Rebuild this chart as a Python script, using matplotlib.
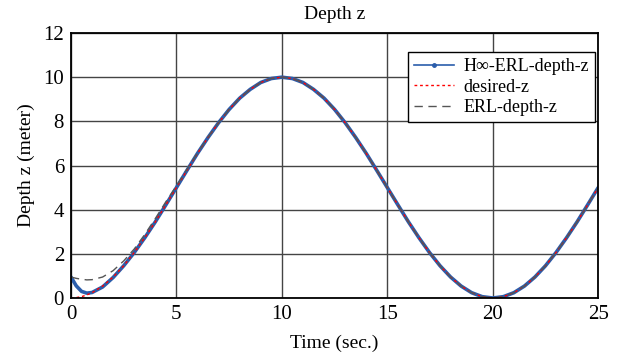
import matplotlib
matplotlib.use("Agg")
import matplotlib.pyplot as plt
from matplotlib.lines import Line2D

# values
time = [0, 0.25, 0.5, 0.75, 1, 1.5, 2, 2.5, 3, 3.5, 4, 4.5, 5, 5.5, 6, 6.5, 7, 7.5, 8, 8.5, 9, 9.5,
        10, 10.5, 11, 11.5, 12, 12.5, 13, 13.5, 14, 14.5, 15, 15.5, 16, 16.5, 17, 17.5, 18, 18.5,
        19, 19.5, 20, 20.5, 21, 21.5, 22, 22.5, 23, 23.5, 24, 24.5, 25]

desired_z = [0.0, 0.02, 0.06, 0.14, 0.24, 0.54, 0.95, 1.46, 2.06, 2.73, 3.45, 4.22, 5.0, 5.78, 6.55,
             7.27, 7.94, 8.54, 9.05, 9.45, 9.76, 9.94, 10.0, 9.94, 9.76, 9.45, 9.05, 8.54, 7.94, 7.27,
             6.55, 5.78, 5.0, 4.22, 3.45, 2.73, 2.06, 1.46, 0.95, 0.54, 0.24, 0.06, 0.0, 0.06, 0.24,
             0.54, 0.95, 1.46, 2.06, 2.73, 3.45, 4.22, 5.0]

hinf_z = [0.95, 0.55, 0.3, 0.22, 0.25, 0.5, 0.93, 1.46, 2.06, 2.73, 3.45, 4.22, 5.0, 5.78, 6.55,
          7.27, 7.94, 8.54, 9.05, 9.45, 9.76, 9.94, 10.0, 9.94, 9.76, 9.45, 9.05, 8.54, 7.94, 7.27,
          6.55, 5.78, 5.0, 4.22, 3.45, 2.73, 2.06, 1.46, 0.95, 0.54, 0.24, 0.06, 0.0, 0.06, 0.24,
          0.54, 0.95, 1.46, 2.06, 2.73, 3.45, 4.22, 5.0]

erl_z = [0.95, 0.89, 0.85, 0.82, 0.83, 0.95, 1.24, 1.68, 2.22, 2.88, 3.6, 4.36, 5.08, 5.83, 6.57,
         7.28, 7.94, 8.54, 9.05, 9.45, 9.76, 9.94, 10.0, 9.94, 9.76, 9.45, 9.05, 8.54, 7.94, 7.27,
         6.55, 5.78, 5.0, 4.22, 3.45, 2.73, 2.06, 1.46, 0.95, 0.54, 0.24, 0.06, 0.0, 0.06, 0.24,
         0.54, 0.95, 1.46, 2.06, 2.73, 3.45, 4.22, 5.0]

names = ['H\u221e-ERL-depth-z', 'desired-z', 'ERL-depth-z']

plt.rcParams['font.family'] = ['Liberation Serif', 'DejaVu Serif']

fig = plt.figure(figsize=(6.21, 3.61), dpi=100)
ax = fig.add_axes([0.1143, 0.1745, 0.849, 0.734])

ax.plot(time, hinf_z, color='#2b5dab', lw=2.6, solid_capstyle='round')
ax.plot(time, desired_z, color='red', lw=1.0, ls=(0, (2, 2)))
ax.plot(time, erl_z, color='#555555', lw=1.0, ls=(0, (6, 4)))

ax.set_xlim(0, 25)
ax.set_ylim(0, 12)
ax.set_xticks([0, 5, 10, 15, 20, 25])
ax.set_yticks([0, 2, 4, 6, 8, 10, 12])
ax.grid(True, color='#444444', lw=1.0)
ax.tick_params(labelsize=15, length=0, pad=5)
for s in ax.spines.values():
    s.set_linewidth(1.3)

ax.set_title('Depth z', fontsize=14, pad=10)
ax.set_xlabel('Time (sec.)', fontsize=14, labelpad=8)
ax.set_ylabel('Depth z (meter)', fontsize=14, labelpad=6)

handles = [
    Line2D([], [], color='#2b5dab', lw=1.2, marker='.', markersize=5),
    Line2D([], [], color='red', lw=1.0, ls=(0, (2, 2))),
    Line2D([], [], color='#555555', lw=1.0, ls=(0, (6, 4))),
]
leg = ax.legend(handles, names, loc='upper right', bbox_to_anchor=(0.994, 0.93), fontsize=13,
                fancybox=False, framealpha=1, edgecolor='black', borderpad=0.35,
                labelspacing=0.2, handlelength=2.2, handletextpad=0.5, borderaxespad=0)
leg.get_frame().set_linewidth(1.0)

fig.savefig('out.png', dpi=100)
